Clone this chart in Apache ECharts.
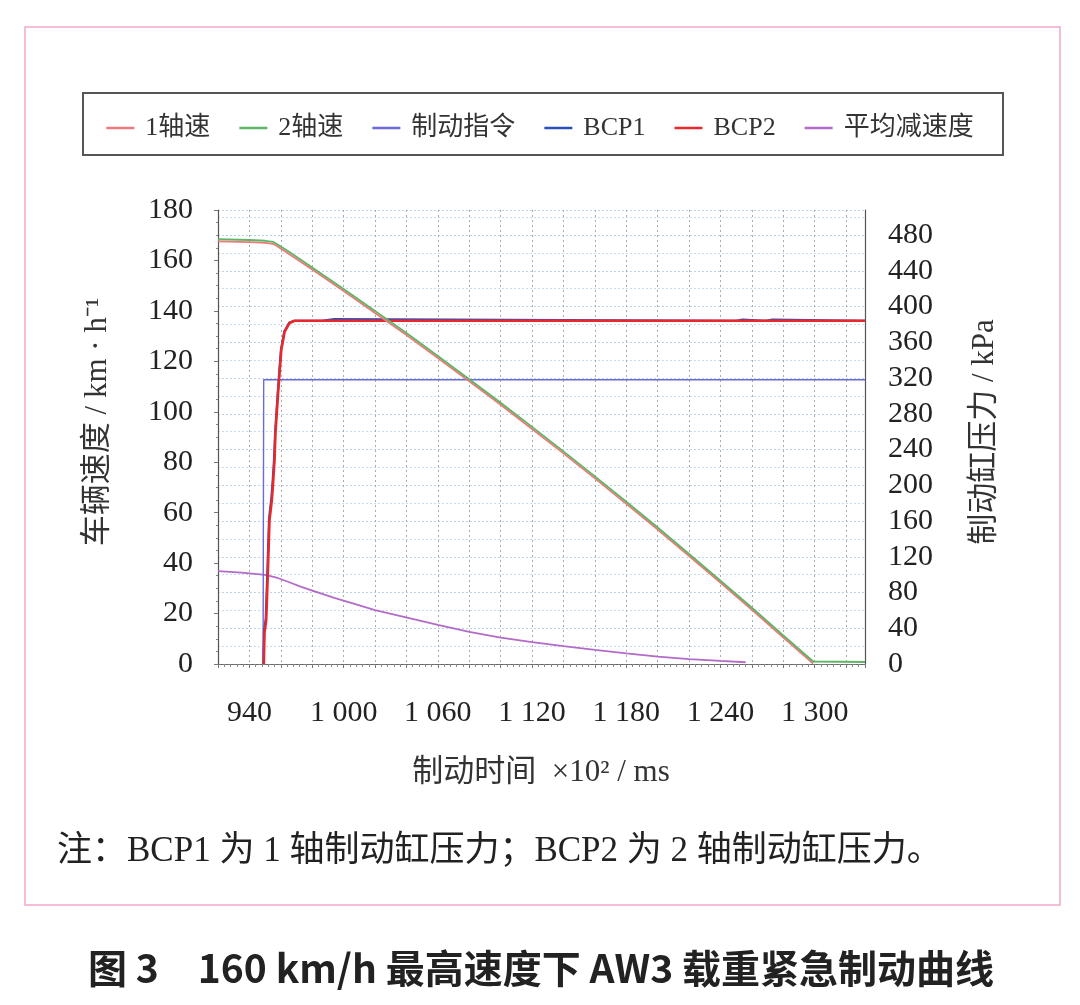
<!DOCTYPE html>
<html>
<head>
<meta charset="utf-8">
<title>160 km/h 最高速度下 AW3 载重紧急制动曲线</title>
<script src="https://cdn.jsdelivr.net/npm/echarts@6/dist/echarts.min.js"></script>
<style>
    html, body { margin: 0; padding: 0; background: #fff; }
    #chart { width: 1080px; height: 1005px; }
</style>
</head>
<body>
<div id="chart"></div>
<script>
// 横轴：制动时间 ×10² ms
var xMin = 920;
var xMax = 1332;
var xTickLabels = [940, 1000, 1060, 1120, 1180, 1240, 1300];

// 1轴速 / 2轴速 (km/h)
var speed1 = [[920,167.6],[940,167.3],[950,167],[955,166.6],[958,165.5],[965,162.7],[980,156.4],
    [1000,147.9],[1020,139.2],[1040,130.4],[1060,121.3],[1080,112.1],[1100,102.8],[1120,93.2],
    [1140,83.5],[1160,73.6],[1180,63.5],[1200,53.3],[1220,42.8],[1240,32.2],[1260,21.5],
    [1280,10.5],[1299,0.2]];
var speed2 = [[920,168.4],[940,168.1],[950,167.8],[955,167.4],[958,166.3],[965,163.5],[980,157.2],
    [1000,148.7],[1020,140],[1040,131.2],[1060,122.1],[1080,112.9],[1100,103.6],[1120,94],
    [1140,84.3],[1160,74.4],[1180,64.3],[1200,54.1],[1220,43.6],[1240,33],[1260,22.3],
    [1280,11.3],[1299,1],[1300,0.8],[1332,0.8]];

// 制动指令 (kPa)
var brakeCmd = [[948.7,0],[949.1,318],[1332,318]];

// BCP1 / BCP2 制动缸压力 (kPa)
var bcp1 = [[948.9,0],[949.3,36],[950.4,51],[951.5,107],[952.5,163],[954,186],[954.7,202],
    [955.7,230],[956.4,260],[957.9,300],[959,327],[960.1,352],[962.2,372],[965.4,382],[968.6,384],
    [986,384],[987,386],[994,386],[995,384],[1250,384],[1251,385.5],[1254,385.5],[1255,384],
    [1269,384],[1270,385.5],[1273,385.5],[1274,384],[1332,384]];
var bcp2 = [[949.2,0],[949.6,34.7],[950.7,49],[951.8,105],[952.8,161],[954.3,183.5],[955,200],
    [956,228],[956.6,258.5],[958.1,298.8],[959.2,325.6],[960.3,351.3],[962.4,371.5],[965.6,381.6],
    [968.8,384],[1332,384]];

// 平均减速度
var avgDecel = [[920,36.8],[935,36.2],[950,35.3],[958,34.1],[965,32.5],[973,30.6],[984,28.3],
    [994,26.2],[1008,23.6],[1020,21.4],[1037,18.9],[1060,15.5],[1080,12.7],[1100,10.5],[1120,8.7],
    [1140,7.1],[1160,5.6],[1180,4.2],[1200,2.9],[1220,1.9],[1240,1.2],[1256,0.7]];

var legendNames = ['1轴速', '2轴速', '制动指令', 'BCP1', 'BCP2', '平均减速度'];

var SERIF = "'Liberation Serif', 'Times New Roman', 'Noto Sans CJK SC', serif";

//千位加空格 1000 -> 1 000
function fmtThousand(v){
    var s = String(v);
    if(s.length > 3) s = s.substring(0, s.length - 3) + ' ' + s.substring(s.length - 3);
    return s;
}

function lineSeries(name, data, color, width, yIdx, z){
    return {
        name: name,
        type: 'line',
        data: data,
        yAxisIndex: yIdx,
        showSymbol: false,
        symbol: 'none',
        z: z,
        lineStyle: { color: color, width: width },
        itemStyle: { color: color }
    };
}

var chart = echarts.init(document.getElementById('chart'), null, { renderer: 'canvas' });
var option = {
    animation: false,
    backgroundColor: '#fff',
    grid: { left: 218, right: 215, top: 210, bottom: 341 },
    legend: {
        data: legendNames,
        top: 110,
        left: 'center',
        icon: 'rect',
        itemWidth: 28,
        itemHeight: 2.5,
        itemGap: 29,
        textStyle: { fontFamily: SERIF, fontSize: 26, color: '#333', padding: [0, 0, 0, 6] }
    },
    xAxis: [{
        type: 'value',
        min: xMin,
        max: xMax,
        interval: 20,
        position: 'bottom',
        axisLine: { lineStyle: { color: '#555', width: 1.2 } },
        axisTick: { show: true, length: 4, lineStyle: { color: '#777' } },
        minorTick: { show: true, splitNumber: 5, length: 3, lineStyle: { color: '#888' } },
        axisLabel: {
            margin: 34,
            fontFamily: SERIF,
            fontSize: 30,
            color: '#222',
            formatter: function(v){
                return xTickLabels.indexOf(v) >= 0 ? fmtThousand(v) : '';
            }
        },
        splitLine: { show: true, lineStyle: { color: '#aaa', type: [2, 3], width: 1 } }
    }, {
        type: 'value',
        min: xMin,
        max: xMax,
        position: 'top',
        axisLine: { show: true, lineStyle: { color: '#777', type: [3, 2], width: 1.2 } },
        axisTick: { show: false },
        axisLabel: { show: false },
        splitLine: { show: false }
    }],
    yAxis: [{
        type: 'value',
        min: 0,
        max: 180,
        interval: 20,
        position: 'left',
        axisLine: { show: true, lineStyle: { color: '#555', width: 1.2 } },
        axisTick: { show: true, length: 4, lineStyle: { color: '#777' } },
        minorTick: { show: true, splitNumber: 4, length: 2, lineStyle: { color: '#888' } },
        axisLabel: { margin: 25, fontFamily: SERIF, fontSize: 30, color: '#222' },
        splitLine: { show: false }
    }, {
        type: 'value',
        min: 0,
        max: 508,
        interval: 40,
        position: 'right',
        axisLine: { show: true, lineStyle: { color: '#555', width: 1.2 } },
        axisTick: { show: false },
        minorTick: { show: false, splitNumber: 2 },
        axisLabel: { margin: 23, fontFamily: SERIF, fontSize: 30, color: '#222', showMaxLabel: false },
        splitLine: { show: true, lineStyle: { color: '#b9d3e8', type: [2, 2], width: 1 } },
        minorSplitLine: { show: true, lineStyle: { color: '#c6dcec', type: [2, 2], width: 1 } }
    }],
    series: [
        lineSeries('平均减速度', avgDecel, '#b36bc9', 1.8, 0, 2),
        lineSeries('制动指令', brakeCmd, '#6a6ad8', 1.4, 1, 3),
        lineSeries('BCP1', bcp1, '#2850b8', 2.2, 1, 4),
        lineSeries('BCP2', bcp2, '#e8282a', 2.6, 1, 5),
        lineSeries('1轴速', speed1, '#f07878', 1.8, 0, 6),
        lineSeries('2轴速', speed2, '#5fb566', 1.8, 0, 7)
    ],
    graphic: [
        //外框
        { type: 'rect', shape: { x: 25, y: 27, width: 1035, height: 878 },
          style: { fill: null, stroke: '#f3a6cc', lineWidth: 1.5 }, silent: true },
        //图例框
        { type: 'rect', shape: { x: 83, y: 93, width: 920, height: 62 },
          style: { fill: null, stroke: '#555', lineWidth: 2 }, silent: true, z: -1 },
        //左轴名称
        { type: 'text', x: 98, y: 422, rotation: Math.PI / 2,
          style: { text: '车辆速度 / km · h⁻¹', font: '31px ' + SERIF, fill: '#333', align: 'center', verticalAlign: 'middle' } },
        //右轴名称
        { type: 'text', x: 985, y: 432, rotation: Math.PI / 2,
          style: { text: '制动缸压力 / kPa', font: '31px ' + SERIF, fill: '#333', align: 'center', verticalAlign: 'middle' } },
        //横轴名称
        { type: 'text', x: 541, y: 773,
          style: { text: '制动时间  ×10² / ms', font: '31px ' + SERIF, fill: '#333', align: 'center', verticalAlign: 'middle' } },
        //注
        { type: 'text', x: 57, y: 852,
          style: { text: '注：BCP1 为 1 轴制动缸压力；BCP2 为 2 轴制动缸压力。', font: '35px ' + SERIF, fill: '#222', align: 'left', verticalAlign: 'middle' } },
        //图题
        { type: 'text', x: 541, y: 968,
          style: { text: '图 3　160 km/h 最高速度下 AW3 载重紧急制动曲线', font: "bold 39px 'Noto Sans CJK SC', sans-serif", fill: '#222', align: 'center', verticalAlign: 'middle' } }
    ]
};
chart.setOption(option);
</script>
</body>
</html>
